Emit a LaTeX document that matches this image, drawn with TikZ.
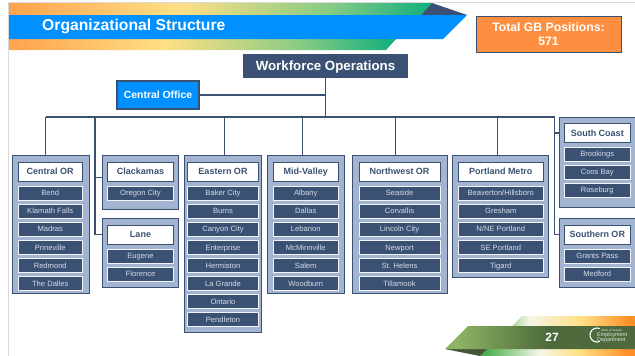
\documentclass[tikz,border=0pt]{standalone}
\usepackage{fontspec}
\setmainfont{Liberation Sans}
\definecolor{navy}{HTML}{3B5173}
\definecolor{steel}{HTML}{A3B4D0}
\definecolor{bandblue}{HTML}{0090FF}
\definecolor{orangebox}{HTML}{FF8F40}
\definecolor{itemtext}{HTML}{D5DCE8}
\definecolor{topA}{HTML}{FFA24D}
\definecolor{topB}{HTML}{FFE085}
\definecolor{topC}{HTML}{86CB85}
\definecolor{topD}{HTML}{0FAE7C}
\definecolor{footA}{HTML}{4CAF50}
\definecolor{footE}{HTML}{A9D6A4}
\definecolor{footB}{HTML}{F4F6E6}
\definecolor{footC}{HTML}{FFE085}
\definecolor{footD}{HTML}{FF8F28}
\definecolor{footG}{HTML}{8DB463}
\definecolor{footH}{HTML}{4E6A3C}
\definecolor{footT}{HTML}{44573A}
\pgfdeclarehorizontalshading{topband}{100bp}{color(0bp)=(topA);color(25bp)=(topA);color(45bp)=(topB);color(63bp)=(topC);color(75bp)=(topD);color(100bp)=(topD)}
\pgfdeclarehorizontalshading{footstriptop}{100bp}{color(0bp)=(footE);color(25bp)=(footE);color(32bp)=(footB);color(53bp)=(footC);color(73bp)=(footD);color(100bp)=(footD)}
\pgfdeclarehorizontalshading{footstrip}{100bp}{color(0bp)=(footA);color(27bp)=(footA);color(44bp)=(footB);color(57bp)=(footC);color(73bp)=(footD);color(100bp)=(footD)}
\pgfdeclarehorizontalshading{footband}{100bp}{color(0bp)=(footG);color(28bp)=(footG);color(52bp)=(footH);color(100bp)=(footH)}
\newcommand{\bx}[7]{%
  \pgfmathsetmacro{\cxv}{(#3+#5)/2}\pgfmathsetmacro{\cyv}{(#4+#6)/2}%
  \pgfmathsetmacro{\wv}{#5-#3}\pgfmathsetmacro{\hv}{#6-#4}%
  \node[#2,minimum width=\wv pt,minimum height=\hv pt] (#1) at (\cxv,\cyv) {#7};}
\newcommand{\rows}[6]{%
  \foreach \lab [count=\ii from 0] in {#6}{%
    \pgfmathsetmacro{\ya}{#3+\ii*#4}\pgfmathsetmacro{\yb}{\ya+#5}%
    \bx{#1-\ii}{itembox}{#2}{\ya}{\xtwo}{\yb}{\lab}}}
\tikzset{
  panel/.style={draw=navy,line width=1pt,fill=steel,inner sep=0pt,outer sep=0pt},
  titlebox/.style={draw=navy,line width=1pt,fill=white,text=navy,font=\fontsize{9}{10}\selectfont\bfseries,inner sep=0pt,outer sep=0pt,text height=6.5pt,text depth=0pt},
  itembox/.style={draw=white!85!steel,line width=1pt,fill=navy,text=itemtext,font=\fontsize{7.6}{9}\selectfont,inner sep=0pt,outer sep=0pt,text height=5.5pt,text depth=0pt},
  wire/.style={draw=navy,line width=1.4pt},
}
\begin{document}
\begin{tikzpicture}[x=1pt,y=-1pt]
\useasboundingbox (0,0) rectangle (635,356);
\fill[white] (0,0) rectangle (635,356);
\draw[black!15,line width=1pt] (635,2.5) -- (8.5,2.5) -- (8.5,356);
% header
\shade[shading=topband] (9,3) -- (432,3) -- (421,15) -- (9,15) -- cycle;
\shade[shading=topband] (9,39) -- (396,39) -- (386,50) -- (9,50) -- cycle;
\fill[navy] (432,3) -- (467,15) -- (421,15) -- cycle;
\fill[bandblue] (9,15) -- (467,15) -- (443,39) -- (9,39) -- cycle;
\node[anchor=west,text=white,font=\fontsize{15.7}{18}\selectfont\bfseries,inner sep=0pt] (pagetitle) at (42,26.5) {Organizational Structure};
\bx{gb}{draw=navy,line width=1pt,fill=orangebox,text=white,font=\fontsize{12.2}{14.5}\selectfont\bfseries,align=center,inner sep=0pt}{476}{16}{621}{52}{Total GB Positions:\\571}
% top boxes
\bx{wf}{fill=navy,text=white,font=\fontsize{13.3}{16}\selectfont\bfseries,inner sep=0pt,outer sep=0pt,text height=9.6pt,text depth=0pt}{243}{54}{408}{78}{Workforce Operations}
\bx{co}{draw=navy,line width=1.4pt,fill=bandblue,text=white,font=\fontsize{10.4}{12}\selectfont\bfseries,inner sep=0pt,outer sep=0pt,text height=7.5pt,text depth=0pt}{117}{81}{199}{109}{Central Office}
% panels
\bx{pcen}{panel}{12.5}{155.5}{89}{293}{}
\bx{pcla}{panel}{102}{155.5}{178}{209}{}
\bx{plan}{panel}{102}{218}{178}{287}{}
\bx{peas}{panel}{184.5}{155.5}{261}{332}{}
\bx{pmid}{panel}{267.5}{155.5}{344}{293}{}
\bx{pnor}{panel}{352}{155.5}{447}{293}{}
\bx{ppor}{panel}{452.5}{155.5}{548}{277}{}
\bx{psou}{panel}{559}{117}{636}{207}{}
\bx{psor}{panel}{559}{218}{636}{287}{}
% titles
\bx{tcen}{titlebox}{18}{162}{82.5}{181}{Central OR}
\bx{tcla}{titlebox}{107.5}{162}{173.5}{181}{Clackamas}
\bx{tlan}{titlebox}{107.5}{225}{173.5}{244}{Lane}
\bx{teas}{titlebox}{187.5}{162}{258.5}{181}{Eastern OR}
\bx{tmid}{titlebox}{273.5}{162}{338}{181}{Mid-Valley}
\bx{tnor}{titlebox}{359}{162}{440}{181}{Northwest OR}
\bx{tpor}{titlebox}{458.5}{162}{543}{181}{Portland Metro}
\bx{tsou}{titlebox}{564.5}{123.5}{630}{142.5}{South Coast}
\bx{tsor}{titlebox}{564.5}{225}{630}{244}{Southern OR}
% items
\def\xtwo{82.5}\rows{icen}{18}{186}{18.1}{14}{Bend,Klamath Falls,Madras,Prineville,Redmond,The Dalles}
\def\xtwo{173.5}\rows{icla}{107.5}{186}{18.1}{14}{Oregon City}
\def\xtwo{173.5}\rows{ilan}{107.5}{249}{18.1}{14}{Eugene,Florence}
\def\xtwo{258.5}\rows{ieas}{187.5}{186}{18.1}{14}{Baker City,Burns,Canyon City,Enterprise,Hermiston,La Grande,Ontario,Pendleton}
\def\xtwo{338}\rows{imid}{273.5}{186}{18.1}{14}{Albany,Dallas,Lebanon,McMinnville,Salem,Woodburn}
\def\xtwo{440}\rows{inor}{359}{186}{18.1}{14}{Seaside,Corvallis,Lincoln City,Newport,St. Helens,Tillamook}
\def\xtwo{543}\rows{ipor}{458.5}{186}{18.1}{14}{Beaverton/Hillsboro,Gresham,N/NE Portland,SE Portland,Tigard}
\def\xtwo{630}\rows{isou}{564.5}{147}{18.1}{14}{Brookings,Coos Bay,Roseburg}
\def\xtwo{630}\rows{isor}{564.5}{249}{18.1}{14}{Grants Pass,Medford}
% connectors
\coordinate (hub) at (325.5,117);
\coordinate (dcen) at (45.5,117);
\coordinate (dcla) at (95,117);
\coordinate (deas) at (224.5,117);
\coordinate (dmid) at (302.5,117);
\coordinate (dnor) at (395.5,117);
\coordinate (dpor) at (497.5,117);
\coordinate (dsou) at (554.5,117);
\draw[wire] (wf.south -| hub) -- (hub);
\draw[wire] (co.east) -- (co.east -| hub);
\draw[wire] (dcen) -- (dsou);
\draw[wire] (dcen) -- (dcen |- pcen.north);
\draw[wire] (deas) -- (deas |- peas.north);
\draw[wire] (dmid) -- (dmid |- pmid.north);
\draw[wire] (dnor) -- (dnor |- pnor.north);
\draw[wire] (dpor) -- (dpor |- ppor.north);
\draw[wire] (dcla) |- (plan.west |- tlan.center);
\draw[wire] (dcla |- pcla.west) ++(0,-4.5) -- ++(7,0);
\draw[wire] (dsou) |- (psor.west |- tsor.center);
\draw[wire] (dsou |- tsou.center) -- (psou.west |- tsou.center);
% footer
\shade[shading=footstriptop] (512,326) -- (522,316) -- (635,316) -- (635,326) -- cycle;
\shade[shading=footstrip] (480,356) -- (487,349) -- (635,349) -- (635,356) -- cycle;
\fill[footT] (445,349) -- (487,349) -- (480,356) -- cycle;
\shade[shading=footband] (468,326) -- (635,326) -- (635,349) -- (445,349) -- cycle;
\node[text=white,font=\fontsize{12}{14}\selectfont\bfseries,inner sep=0pt] (pagenum) at (552,337) {27};
\draw[white,line width=1.1pt,line cap=round] (599.4,341.6) arc[start angle=70,end angle=290,radius=7];
\node[text=white!85!footH,font=\fontsize{3}{3}\selectfont,inner sep=0pt,anchor=west] (logotop) at (601,330.5) {State of Oregon};
\node[text=white!85!footH,font=\fontsize{5.4}{5.6}\selectfont,align=left,inner sep=0pt,anchor=west] (logo) at (597,337.5) {Employment\\Department};
\end{tikzpicture}
\end{document}
